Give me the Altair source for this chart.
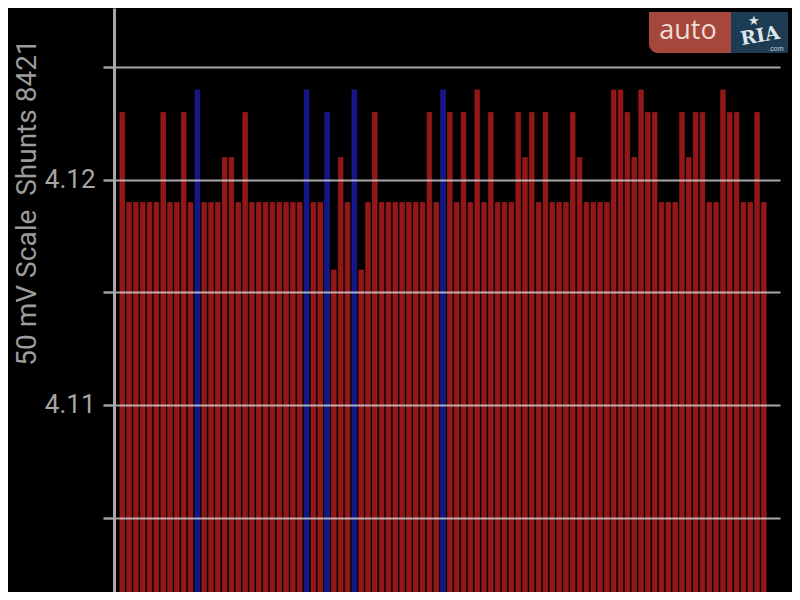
import altair as alt
import pandas as pd

# Bar readings (volts), one per bar, left to right
values = [
    4.123, 4.119, 4.119, 4.119, 4.119, 4.119, 4.123, 4.119, 4.119, 4.123,
    4.119, 4.124, 4.119, 4.119, 4.119, 4.121, 4.121, 4.119, 4.123, 4.119,
    4.119, 4.119, 4.119, 4.119, 4.119, 4.119, 4.119, 4.124, 4.119, 4.119,
    4.123, 4.116, 4.121, 4.119, 4.124, 4.116, 4.119, 4.123, 4.119, 4.119,
    4.119, 4.119, 4.119, 4.119, 4.119, 4.123, 4.119, 4.124, 4.123, 4.119,
    4.123, 4.119, 4.124, 4.119, 4.123, 4.119, 4.119, 4.119, 4.123, 4.121,
    4.123, 4.119, 4.123, 4.119, 4.119, 4.119, 4.123, 4.121, 4.119, 4.119,
    4.119, 4.119, 4.124, 4.124, 4.123, 4.121, 4.124, 4.123, 4.123, 4.119,
    4.119, 4.119, 4.123, 4.121, 4.123, 4.123, 4.119, 4.119, 4.124, 4.123,
    4.123, 4.119, 4.119, 4.123, 4.119,
]
# Bars highlighted in blue (1-based positions)
blue_bars = [12, 28, 31, 35, 48]

y_ticks = [4.105, 4.11, 4.115, 4.12, 4.125]
y_title = "50 mV Scale\u00a0 Shunts 8421"

index = list(range(1, len(values) + 1))
df = pd.DataFrame({
    "i": index,
    "v": values,
    "g": ["blue" if i in blue_bars else "red" for i in index],
})

W, H = 666, 584

bars = alt.Chart(df).mark_bar(size=4.6, strokeWidth=0.6).encode(
    x=alt.X("i:Q", scale=alt.Scale(domain=[0.524, 96.63], nice=False, zero=False), axis=None),
    y=alt.Y(
        "v:Q",
        scale=alt.Scale(domain=[4.101689, 4.127644], nice=False, zero=False),
        axis=alt.Axis(
            values=y_ticks,
            labelExpr="abs(datum.value*100 - round(datum.value*100)) < 0.001 ? format(datum.value, '.2f') : ''",
            grid=True, gridColor="#d2d2d2", gridWidth=2, gridOpacity=0.8,
            tickColor="#a0a0a0", tickSize=11, tickWidth=2.5,
            domainColor="#a8a8a8", domainWidth=3,
            labelColor="#a6a6a6", labelFont="Roboto", labelFontSize=26, labelPadding=8,
            title=y_title, titleColor="#9c9c9c", titleFont="Roboto", titleFontSize=28,
            titleFontWeight="normal", titleAngle=270, titleX=-87, titleY=194,
            titleAlign="center", titleBaseline="middle", zindex=1,
        ),
    ),
    fill=alt.Color("g:N", scale=alt.Scale(domain=["red", "blue"], range=["#941616", "#15158a"]), legend=None),
    stroke=alt.Color("g:N", scale=alt.Scale(domain=["red", "blue"], range=["#a82222", "#2424a8"]), legend=None),
)

logo_df = pd.DataFrame({"k": [0]})
logo_red = alt.Chart(logo_df).mark_rect(color="#a5473c", cornerRadiusBottomLeft=9).encode(
    x=alt.value(535), x2=alt.value(617), y=alt.value(4), y2=alt.value(45))
logo_blue = alt.Chart(logo_df).mark_rect(color="#1d3b52").encode(
    x=alt.value(617), x2=alt.value(674), y=alt.value(4), y2=alt.value(45))
logo_auto = alt.Chart(logo_df).mark_text(
    text="auto", font="Open Sans", fontSize=27, color="#f2dcd4", align="center", baseline="middle"
).encode(x=alt.value(574), y=alt.value(23))
logo_ria = alt.Chart(logo_df).mark_text(
    text="RIA", font="DejaVu Serif", fontWeight="bold", fontSize=19, color="#dfe6ea",
    align="center", baseline="middle", angle=350
).encode(x=alt.value(646), y=alt.value(28))
logo_star = alt.Chart(logo_df).mark_text(
    text="\u2605", fontSize=13, color="#dfe6ea", align="center", baseline="middle"
).encode(x=alt.value(640), y=alt.value(13))
logo_com = alt.Chart(logo_df).mark_text(
    text=".com", fontSize=7, color="#c9d3da", align="center", baseline="middle"
).encode(x=alt.value(662), y=alt.value(41))

chart = alt.layer(bars, logo_red, logo_blue, logo_auto, logo_ria, logo_star, logo_com).properties(
    width=W, height=H,
    autosize=alt.AutoSizeParams(type="none"),
    padding={"left": 106, "top": 0, "right": 12, "bottom": 0},
    background="#000000",
).configure_view(stroke=None)

chart.save("out.html", embed_options={"renderer": "svg", "actions": False})
